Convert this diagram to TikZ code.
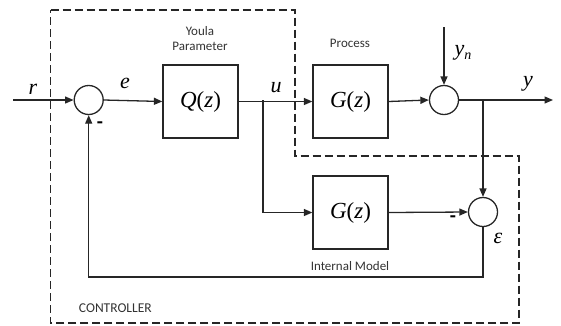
\documentclass[tikz,border=0pt]{standalone}
\usepackage{fontspec}
\setmainfont{Carlito}
\newfontfamily\tim{Liberation Serif}
\usetikzlibrary{arrows.meta}
\begin{document}
\begin{tikzpicture}[x=1pt,y=-1pt,
  line width=1.3pt, draw={black!85},
  arr/.style={-{Triangle[length=8.5pt,width=7pt]}},
  sumc/.style={circle,draw,minimum size=29pt,inner sep=0pt},
  blk/.style={rectangle,draw,minimum width=75pt,minimum height=73pt,inner sep=0pt},
  lab/.style={font=\fontsize{13}{15}\selectfont,text=black!80},
  mth/.style={font=\fontsize{22}{24}\selectfont\tim\itshape},
  sgn/.style={font=\fontsize{20}{20}\selectfont\bfseries}]
\useasboundingbox (0,0) rectangle (561,325);
% controller boundary
\draw[dash pattern=on 8pt off 4pt, line width=1.3pt] (50.7,10) -- (295,10) -- (295,156) -- (519,156) -- (519,323) -- (50.7,323) -- cycle;
% nodes
\node[sumc] (s1) at (88.7,100) {};
\node[blk] (Q) at (200.5,101.5) {\fontsize{23}{25}\selectfont\tim\itshape Q\upshape(\itshape z\upshape)};
\node[blk] (G) at (350.5,101.5) {\fontsize{23}{25}\selectfont\tim\itshape G\upshape(\itshape z\upshape)};
\node[sumc] (s2) at (444,100) {};
\node[blk] (Gm) at (350.5,212.5) {\fontsize{23}{25}\selectfont\tim\itshape G\upshape(\itshape z\upshape)};
\node[sumc] (s3) at (483,212) {};
\coordinate (rin) at (13,100);
\coordinate (yn) at (444,27);
\coordinate (yout) at (553,100);
\coordinate (b1) at (263,100);
\coordinate (b2) at (483,100);
\coordinate (fb) at (483,277);
% connectors
\draw[arr] (rin) -- (s1.west);
\draw[arr] (s1.east) -- (Q.west);
\draw[arr] (Q.east) -- (G.west);
\draw[arr] (G.east) -- (s2.west);
\draw[arr] (yn) -- (s2.north);
\draw[arr] (s2.east) -- (yout);
\draw[arr] (b1) |- (Gm.west);
\draw[arr] (Gm.east) -- (s3.west);
\draw[arr] (b2) -- (s3.north);
\draw[arr] (s3.south) -- (fb) -| (s1.south);
% labels
\node[mth] (lr) at (33,89) {r};
\node[mth] (le) at (125,83) {e};
\node[mth] (lu) at (276,88) {u};
\node[mth] (ly) at (528,84) {y};
\node[mth] (lyn) at (463,53) {y\raisebox{-0.35ex}{\fontsize{14}{15}\selectfont n}};
\node[mth] (leps) at (498,238) {ε};
\node[sgn] (m1) at (100,125) {-};
\node[sgn] (m2) at (453,219) {-};
\node[lab] (youla) at (200,31) {Youla};
\node[lab] (param) at (200,46) {Parameter};
\node[lab] (proc) at (350,43) {Process};
\node[lab] (intm) at (350,266) {Internal Model};
\node[lab,anchor=west,font=\fontsize{13.5}{15}\selectfont] (ctrl) at (75,308) {CONTROLLER};
\end{tikzpicture}
\end{document}
